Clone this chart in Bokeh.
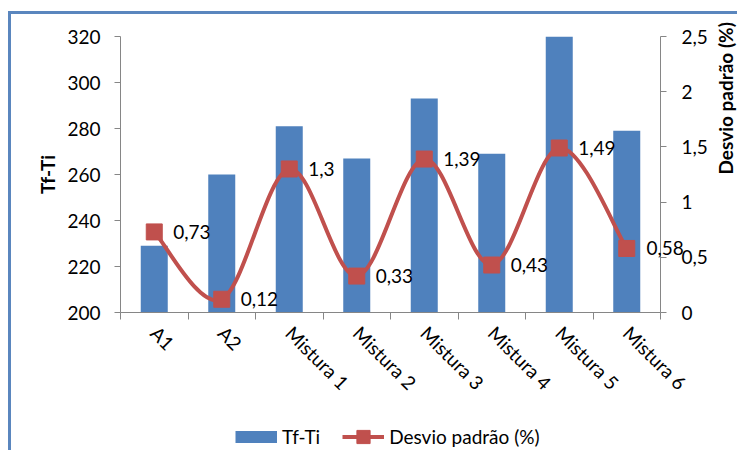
import math
from bokeh.plotting import figure
from bokeh.layouts import column, row
from bokeh.models import (Range1d, LinearAxis, FixedTicker, CustomJSTickFormatter,
                          Legend, LegendItem, ColumnDataSource, LabelSet, Spacer)
from bokeh.core.properties import value
from bokeh.embed import file_html
from bokeh.resources import INLINE

categories = ["A1", "A2", "Mistura 1", "Mistura 2", "Mistura 3", "Mistura 4", "Mistura 5", "Mistura 6"]
tf_ti = [229, 260, 281, 267, 293, 269, 320, 279]
desvio = [0.73, 0.12, 1.3, 0.33, 1.39, 0.43, 1.49, 0.58]
left_ticks = [200, 220, 240, 260, 280, 300, 320]
right_ticks = [0, 0.5, 1, 1.5, 2, 2.5]

FONT = "Lato"
FS = "19px"
BLUE = "#4F81BD"
RED = "#C0504D"
GRAY = "#868686"
EDGE = "#5A86BE"

W, H, HL = 726, 388, 48
xs = [i + 0.5 for i in range(len(categories))]
labels = [f"{v:g}".replace(".", ",") for v in desvio]

p = figure(width=W, height=H, frame_width=540, frame_height=276,
           x_range=Range1d(0, len(categories)), y_range=Range1d(200, 320),
           output_backend="svg", toolbar_location=None,
           min_border_left=109, min_border_right=W - 109 - 540, min_border_top=22,
           min_border_bottom=H - 22 - 276,
           x_axis_type=None, y_axis_type=None)
p.outline_line_color = None
p.xgrid.visible = False
p.ygrid.visible = False
p.extra_y_ranges = {"right": Range1d(0, 2.5)}

src = ColumnDataSource(dict(x=xs, top=tf_ti, dev=desvio, lab=labels))
src_in = ColumnDataSource(dict(x=xs[:-1], dev=desvio[:-1], lab=labels[:-1]))

p.vbar(x="x", top="top", bottom=0, width=0.4, source=src, fill_color=BLUE, line_color=None)

# smooth curve (Catmull-Rom style Bezier segments, as Excel's smoothed line)
n = len(xs)
def P(i):
    i = max(0, min(n - 1, i))
    return xs[i], desvio[i]
x0, y0, x1, y1, cx0, cy0, cx1, cy1 = [], [], [], [], [], [], [], []
for i in range(n - 1):
    pa, pb, pc, pd = P(i - 1), P(i), P(i + 1), P(i + 2)
    x0.append(pb[0]); y0.append(pb[1]); x1.append(pc[0]); y1.append(pc[1])
    cx0.append(pb[0] + (pc[0] - pa[0]) / 6); cy0.append(pb[1] + (pc[1] - pa[1]) / 6)
    cx1.append(pc[0] - (pd[0] - pb[0]) / 6); cy1.append(pc[1] - (pd[1] - pb[1]) / 6)
p.bezier(x0=x0, y0=y0, x1=x1, y1=y1, cx0=cx0, cy0=cy0, cx1=cx1, cy1=cy1,
         line_color=RED, line_width=4, y_range_name="right")
p.scatter(x="x", y="dev", source=src, marker="square", size=16,
          fill_color=RED, line_color=RED, y_range_name="right")
p.add_layout(LabelSet(x="x", y="dev", text="lab", source=src_in, x_offset=19, y_offset=0,
                      text_baseline="middle", text_align="left", text_font=value(FONT),
                      text_font_size=FS, text_color="black", y_range_name="right"))

def style_axis(ax):
    ax.axis_line_color = GRAY
    ax.major_tick_line_color = GRAY
    ax.minor_tick_line_color = GRAY
    ax.major_tick_in = 0
    ax.major_tick_out = 6
    ax.major_label_text_font = FONT
    ax.major_label_text_font_size = FS
    ax.major_label_text_color = "black"
    ax.axis_label_text_font = FONT
    ax.axis_label_text_font_size = FS
    ax.axis_label_text_font_style = "bold"
    ax.axis_label_text_color = "black"

xax = LinearAxis(ticker=FixedTicker(ticks=xs, minor_ticks=list(range(n + 1))),
                 formatter=CustomJSTickFormatter(args=dict(cats=categories),
                                                 code="return cats[Math.floor(tick)]"))
style_axis(xax)
xax.major_tick_line_color = None
xax.minor_tick_in = 0
xax.minor_tick_out = 7
xax.major_label_orientation = -math.pi / 4
xax.major_label_standoff = 10
p.add_layout(xax, "below")

lax = LinearAxis(ticker=FixedTicker(ticks=left_ticks), axis_label="Tf-Ti")
style_axis(lax)
lax.minor_tick_line_color = None
lax.major_label_standoff = 14
lax.axis_label_standoff = 5
p.add_layout(lax, "left")

rax = LinearAxis(y_range_name="right", ticker=FixedTicker(ticks=right_ticks),
                 formatter=CustomJSTickFormatter(code="return tick.toString().replace('.', ',')"),
                 axis_label="Desvio padrão (%)")
style_axis(rax)
rax.minor_tick_line_color = None
rax.major_label_standoff = 15
rax.axis_label_standoff = 15
rax.axis_label_orientation = math.pi / 2
p.add_layout(rax, "right")

# data label of the last point, which runs over the right axis (drawn unclipped)
lab_last = LinearAxis(y_range_name="right", ticker=FixedTicker(ticks=[desvio[-1]]),
                      formatter=CustomJSTickFormatter(args=dict(t=labels[-1]), code="return t"))
style_axis(lab_last)
lab_last.axis_line_color = None
lab_last.major_tick_line_color = None
lab_last.minor_tick_line_color = None
lab_last.major_tick_out = 0
lab_last.major_label_standoff = -105
p.add_layout(lab_last, "right")

# legend, in its own strip below the chart (series drawn out of its view range)
lf = figure(width=W, height=HL, x_range=Range1d(0, 1), y_range=Range1d(0, 1),
            output_backend="svg", toolbar_location=None, min_border=0,
            x_axis_type=None, y_axis_type=None)
lf.outline_line_color = None
lf.xgrid.visible = False
lf.ygrid.visible = False
d1 = lf.line(x=xs, y=tf_ti, line_color=BLUE, line_width=12, line_cap="butt")
d2 = lf.line(x=xs, y=[v + 10 for v in desvio], line_color=RED, line_width=4)
d3 = lf.scatter(x=xs, y=[v + 10 for v in desvio], marker="square", fill_color=RED, line_color=RED)
leg = Legend(items=[LegendItem(label="Tf-Ti", renderers=[d1]),
                    LegendItem(label="Desvio padrão (%)", renderers=[d2, d3])],
             orientation="horizontal", location=(115, 0),
             glyph_width=42, glyph_height=33, label_standoff=5, spacing=22,
             padding=0, margin=0, border_line_color=None, background_fill_alpha=0,
             label_text_font=FONT, label_text_font_size=FS, label_text_color="black")
lf.add_layout(leg, "center")

edge = dict(styles={"background-color": EDGE})
layout = column(
    Spacer(width=1, height=11),
    row(Spacer(width=8, height=3), Spacer(width=W + 3, height=3, **edge)),
    row(Spacer(width=8, height=H + HL), Spacer(width=3, height=H + HL, **edge),
        column(p, lf)),
)

open("out.html", "w").write(file_html(layout, INLINE))
